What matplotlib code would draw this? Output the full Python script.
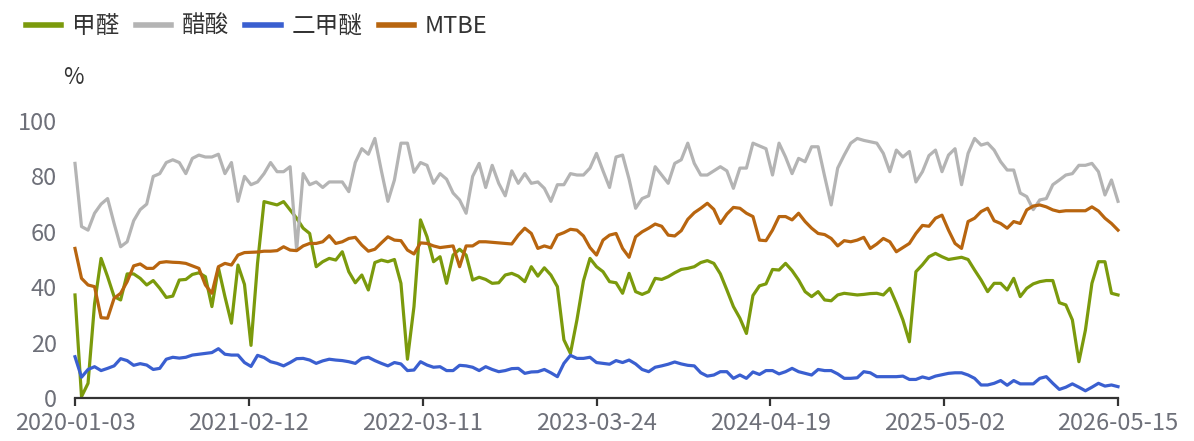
import numpy as np
import matplotlib
matplotlib.use('Agg')
import matplotlib.pyplot as plt

plt.rcParams['font.family'] = ['Noto Sans CJK SC', 'DejaVu Sans']

# Weekly operating rates (%), roughly every other week
formaldehyde = [37.2, 0.5, 5.3, 34, 50.4, 43.8, 36.6, 35.4, 44.8, 44.8,
                43.2, 40.8, 42.4, 39.6, 36.3, 36.8, 42.6, 42.8, 44.6, 45.2,
                43.8, 33, 47, 36.6, 27, 48, 41, 19,
                48.6, 70.9, 70.3, 69.7, 70.9, 67.9, 64.9, 61.3, 59.4, 47.4,
                49.2, 50.4, 49.8, 52.8, 45.6, 41.6, 44.4, 39, 48.9, 49.8,
                49.2, 50, 41.4, 14, 33,
                64.3, 58.2, 49.2, 51, 41.4, 51.6, 53.7, 51.6, 42.6, 43.6,
                42.8, 41.4, 41.6, 44.4, 45, 44, 42, 47.4, 44, 47,
                44.4, 40.2, 21, 16.1, 28.2, 42.3, 50.4,
                47.4, 45.6, 42, 41.6, 37.8, 45, 38.4, 37.4, 38.4, 43.2,
                42.8, 43.8, 45.2, 46.4, 46.8, 47.4, 48.9, 49.6, 48.6, 44.8,
                39, 33, 28.8, 23.3, 37, 40.5,
                41.2, 46.4, 46.2, 48.6, 46, 42.6, 38.4, 36.6, 38.4, 35.4,
                35.1, 37.2, 37.8, 37.5, 37.2, 37.4, 37.7, 37.8, 37.2, 39.6,
                34.2, 28.2, 20.3, 45.6, 48.1, 51,
                52.2, 51, 50, 50.4, 50.8, 50, 46.2, 42.6, 38.4, 41.4,
                41.4, 39, 43.2, 36.6, 39.6, 41.2, 42, 42.4, 42.4, 34.4,
                33.6, 28.2, 13.1, 24.5, 41.4, 49.2, 49.2, 37.8, 37.2]

acetic = [84.7, 61.9, 60.6, 66.7, 70, 72, 63, 54.6, 56.4, 64,
          68, 70, 80, 81, 85, 86, 85, 81, 86.5, 87.7,
          87, 87, 88, 81, 85, 71, 80, 77,
          78, 81, 85, 81.7, 81.7, 83.5, 53.4, 81, 77, 78,
          76, 78, 78, 78, 74.5, 85, 90, 88, 93.7, 82,
          71, 78.7, 92, 92, 81.5,
          85, 84, 77.5, 81, 79, 74, 71.5, 66.7, 80, 84.7,
          76, 84, 77.5, 73, 82, 77.5, 81, 77.5, 78, 75.7,
          71, 77, 77, 81, 80.5, 80.5, 83,
          88.3, 82, 76, 87, 87.7, 79, 68.5, 72, 73, 83.5,
          80.5, 77.5, 84.7, 86, 92, 84.7, 80.5, 80.5, 82, 83.5,
          82, 75.7, 83, 83, 92, 91,
          90, 80.5, 92, 87, 81, 86.5, 85.3, 90.7, 90.7, 80,
          69.7, 83, 87.7, 92, 93.7, 93, 92.5, 92, 88.3, 81.7,
          89.5, 87, 89, 78, 81.7, 87.5,
          89.5, 81.7, 87.7, 90, 77, 88.3, 93.7, 91.3, 92, 89.5,
          85.3, 82.3, 82.3, 74, 72.7, 68, 71.5, 72, 77, 78.7,
          80.5, 81, 84, 84, 84.7, 81.7, 73.3, 78.7, 71]

dme = [14.9, 7.5, 10.3, 11.3, 9.9, 10.7, 11.6, 14.2, 13.5, 11.8,
       12.4, 11.9, 10.3, 10.7, 14, 14.7, 14.4, 14.7, 15.5, 15.8,
       16.1, 16.4, 17.8, 15.8, 15.5, 15.5, 12.8, 11.4,
       15.4, 14.6, 13.1, 12.5, 11.6, 12.8, 14.2, 14.3, 13.7, 12.5,
       13.4, 14, 13.7, 13.5, 13.1, 12.5, 14.3, 14.7, 13.5, 12.5,
       11.6, 12.8, 12.3, 9.9, 10.1,
       13.1, 11.9, 11.1, 11.3, 9.9, 9.9, 11.8, 11.6, 11.1, 9.9,
       11.3, 10.3, 9.5, 9.9, 10.6, 10.7, 8.9, 9.4, 9.5, 10.3,
       9.1, 7.7, 12.5, 15.4, 14.3, 14.3, 14.7,
       12.8, 12.5, 12.2, 13.5, 12.8, 13.7, 12.3, 10.3, 9.5, 11.1,
       11.6, 12.2, 13, 12.3, 11.8, 11.6, 9.1, 7.9, 8.3, 9.5,
       9.5, 7.1, 8.3, 7.1, 9.4, 8.5,
       9.9, 9.9, 8.7, 9.5, 10.7, 9.5, 8.9, 8.3, 10.3, 9.9,
       9.9, 8.7, 7.1, 7.1, 7.3, 9.5, 9.1, 7.7, 7.7, 7.7,
       7.7, 7.9, 6.7, 6.7, 7.6, 7,
       7.9, 8.4, 8.9, 9.1, 9.1, 8.3, 7.1, 4.7, 4.7, 5.3,
       6.3, 4.6, 6.3, 5.1, 5.1, 5.1, 7.1, 7.7, 5.3, 3.1,
       3.9, 5.1, 3.9, 2.6, 3.9, 5.3, 4.3, 4.7, 4.1]

mtbe = [54, 43.2, 40.8, 40.2, 29, 28.8, 36, 37.8, 42, 47.7,
        48.4, 46.8, 46.8, 48.9, 49.2, 49, 48.9, 48.6, 47.7, 46.8,
        40.8, 37.8, 47.4, 48.6, 48, 51.6, 52.5, 52.6,
        52.7, 53, 53, 53.2, 54.6, 53.4, 53.2, 54.9, 55.8, 55.8,
        56.4, 58.6, 55.8, 56.4, 57.6, 58, 55.2, 53, 53.7, 56,
        58.2, 57, 56.8, 53.4, 52,
        56, 55.8, 54.9, 54.3, 54.6, 54.9, 47.4, 54.9, 54.9, 56.4,
        56.4, 56.2, 56, 55.8, 55.6, 58.8, 61.3, 59.4, 54, 54.9,
        54.2, 58.8, 59.7, 60.9, 60.6, 58.5, 54.3,
        51.6, 57, 58.8, 59.4, 54, 50.8, 58.2, 60, 61.3, 62.8,
        62, 58.8, 58.5, 60.4, 64.5, 66.9, 68.5, 70.3, 68.1, 63,
        66.4, 68.8, 68.5, 66.7, 65.5, 57,
        56.8, 60.6, 65.5, 65.5, 64.3, 66.7, 63.7, 61.3, 59.4, 59,
        57.6, 54.9, 56.8, 56.4, 57, 58, 54, 55.6, 57.6, 56.4,
        52.8, 54.3, 55.8, 59.4, 62.3, 62,
        64.9, 66, 60.6, 55.8, 54, 63.7, 64.9, 67.3, 68.5, 64,
        63, 61.3, 63.7, 63, 67.9, 69.3, 69.7, 69, 67.9, 67.3,
        67.6, 67.6, 67.6, 67.6, 69, 67.5, 64.9, 63, 60.6]

date_labels = ['2020-01-03', '2021-02-12', '2022-03-11', '2023-03-24',
               '2024-04-19', '2025-05-02', '2026-05-15']
y_ticks = [0, 20, 40, 60, 80, 100]

series = [('甲醛', formaldehyde, '#7b9a0c'),
          ('醋酸', acetic, '#b4b4b4'),
          ('二甲醚', dme, '#3a5fd0'),
          ('MTBE', mtbe, '#b8650f')]

n = len(formaldehyde)
x = np.arange(n)

fig = plt.figure(figsize=(11.94, 4.41), dpi=100)
ax = fig.add_axes([75 / 1194, 43 / 441, 1043 / 1194, 277 / 441])

for name, vals, col in series:
    ax.plot(x, vals, color=col, lw=2.3, label=name, clip_on=False,
            solid_joinstyle='round')

ax.set_xlim(0, n - 1)
ax.set_ylim(0, 100)
ax.set_yticks(y_ticks)
ax.set_xticks(np.linspace(0, n - 1, len(date_labels)))
ax.set_xticklabels(date_labels)

for s in ['top', 'right', 'left']:
    ax.spines[s].set_visible(False)
ax.spines['bottom'].set_color('#333333')
ax.spines['bottom'].set_linewidth(1.6)
ax.tick_params(axis='x', length=6, width=1.6, color='#333333',
               labelsize=17, labelcolor='#6e7079', pad=4)
ax.tick_params(axis='y', length=0, labelsize=17, labelcolor='#6e7079', pad=13)

fig.text(63 / 1194, 1 - 78 / 441, '%', fontsize=16, color='#333333',
         va='center', ha='left')

fig.legend(loc='upper left', bbox_to_anchor=(14 / 1194, 1 - 3 / 441),
           ncol=4, frameon=False, fontsize=17, handlelength=1.5,
           handletextpad=0.45, columnspacing=0.7, borderpad=0,
           labelcolor='#333333')
for line in fig.legends[0].get_lines():
    line.set_linewidth(4)

fig.savefig('out.png', dpi=100)
